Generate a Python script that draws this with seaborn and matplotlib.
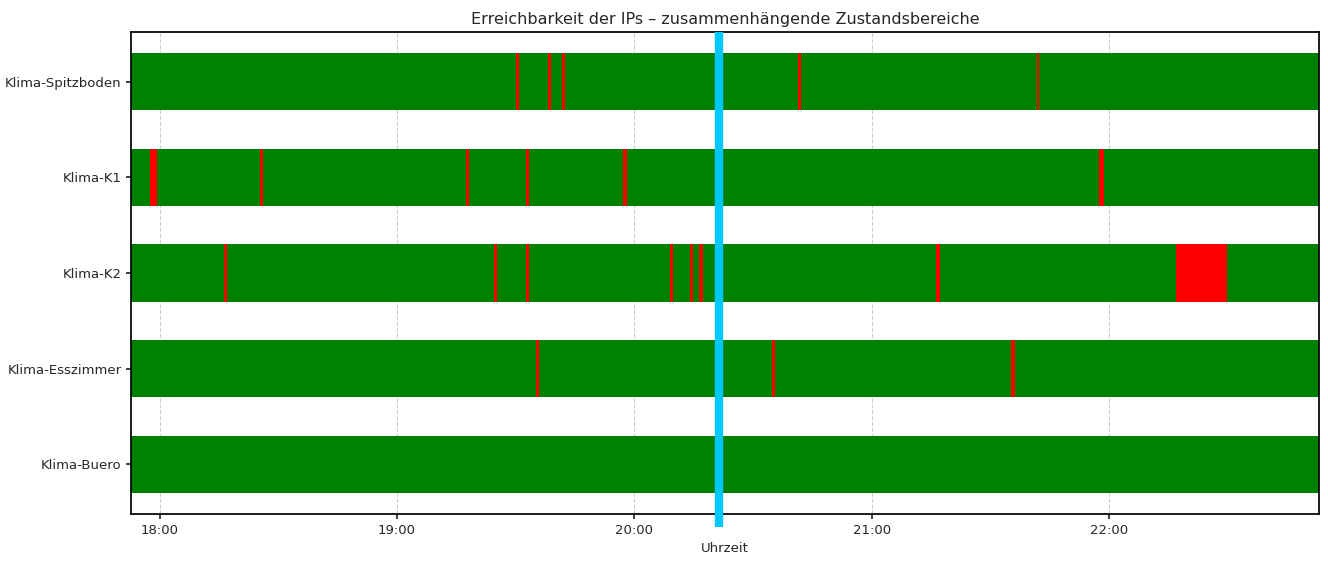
import matplotlib
matplotlib.use("Agg")
import matplotlib.pyplot as plt
import seaborn as sns
import pandas as pd

# minutes after 18:00
hosts = ["Klima-Spitzboden", "Klima-K1", "Klima-K2", "Klima-Esszimmer", "Klima-Buero"]
down_start = {
    "Klima-Spitzboden": [90.0, 98.2, 101.7, 161.4, 221.6],
    "Klima-K1": [-2.5, 25.4, 77.5, 92.6, 117.0, 237.5],
    "Klima-K2": [16.3, 84.6, 92.6, 129.1, 134.1, 136.2, 196.2, 256.9],
    "Klima-Esszimmer": [95.2, 154.8, 215.1],
    "Klima-Buero": [],
}
down_len = {
    "Klima-Spitzboden": [0.7, 0.7, 0.7, 0.7, 0.7],
    "Klima-K1": [1.8, 0.7, 0.7, 0.7, 1.1, 1.1],
    "Klima-K2": [0.7, 0.7, 0.7, 0.7, 0.7, 1.2, 1.0, 12.9],
    "Klima-Esszimmer": [0.7, 0.7, 1.1],
    "Klima-Buero": [],
}
x_min, x_max = -7.1, 292.9
now = 141.4  # aktueller Zeitpunkt
tick_min = [0, 60, 120, 180, 240]
tick_lbl = ["18:00", "19:00", "20:00", "21:00", "22:00"]

rows = []
for i, h in enumerate(hosts):
    rows.append(dict(host=h, y=i, left=x_min, width=x_max - x_min, color="green"))
    for s, l in zip(down_start[h], down_len[h]):
        rows.append(dict(host=h, y=i, left=s, width=l, color="red"))
df = pd.DataFrame(rows)

sns.set_theme(style="white")
plt.rcParams["axes.edgecolor"] = "black"
fig, ax = plt.subplots(figsize=(13.28, 5.7), dpi=100)
ax.barh(df["y"], df["width"], left=df["left"], height=0.6, color=df["color"],
        linewidth=0, zorder=2)
ax.axvline(now, color="#00c8ff", linewidth=6, zorder=3, clip_on=False, ymin=-0.027,
           solid_capstyle="butt")
ax.set_xlim(x_min, x_max)
ax.set_ylim(len(hosts) - 0.48, -0.52)
ax.set_yticks(range(len(hosts)))
ax.set_yticklabels(hosts, fontsize=9.5)
ax.set_xticks(tick_min)
ax.set_xticklabels(tick_lbl, fontsize=9.5)
ax.xaxis.grid(True, linestyle="--", color="#cccccc", linewidth=0.8, zorder=0)
ax.tick_params(left=True, bottom=True, length=3.5)
ax.set_xlabel("Uhrzeit", fontsize=9.5)
ax.set_title("Erreichbarkeit der IPs – zusammenhängende Zustandsbereiche", fontsize=11.5)
plt.subplots_adjust(left=0.099, right=0.993, top=0.944, bottom=0.098)
fig.savefig("out.png")
